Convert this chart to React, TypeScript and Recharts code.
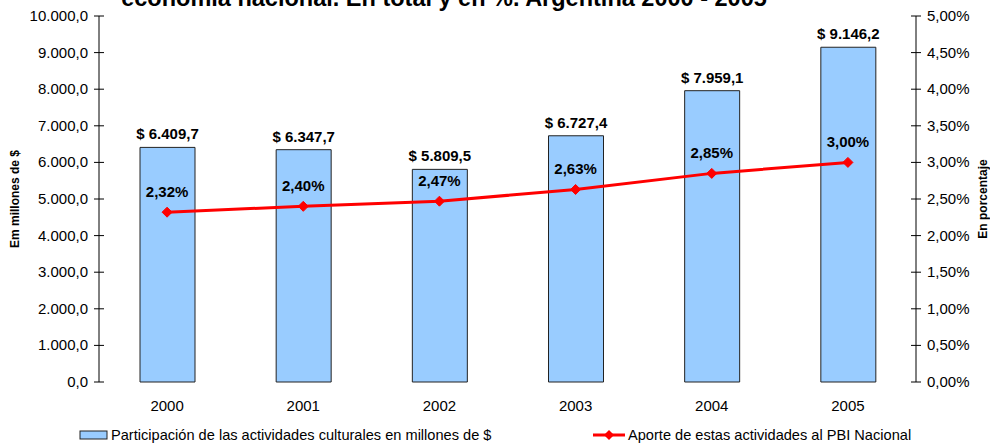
import React from 'react';
import { ComposedChart, Bar, Line, XAxis, YAxis, LabelList } from 'recharts';

const years = ['2000', '2001', '2002', '2003', '2004', '2005'];
const millones = [6409.7, 6347.7, 5809.5, 6727.4, 7959.1, 9146.2];
const porcentaje = [2.32, 2.4, 2.47, 2.63, 2.85, 3.0];
const leftTicks = [0, 1000, 2000, 3000, 4000, 5000, 6000, 7000, 8000, 9000, 10000];
const rightTicks = [0, 0.5, 1, 1.5, 2, 2.5, 3, 3.5, 4, 4.5, 5];
const boundaryTicks = [0, 1, 2, 3, 4, 5, 6];

const titleText = 'economía nacional. En total y en %. Argentina 2000 - 2005';
const barName = 'Participación de las actividades culturales en millones de $';
const lineName = 'Aporte de estas actividades al PBI Nacional';
const leftTitle = 'Em millones de $';
const rightTitle = 'En porcentaje';

const data = years.map((y, i) => ({ year: y, m: millones[i], p: porcentaje[i] }));

const FONT = '"Liberation Sans", Arial, sans-serif';

function fmtNum(v: number, dec: number): string {
  const fixed = v.toFixed(dec);
  const [int, frac] = fixed.split('.');
  const withSep = int.replace(/\B(?=(\d{3})+(?!\d))/g, '.');
  return frac !== undefined ? withSep + ',' + frac : withSep;
}

const LeftTick = (props: any) => {
  const { x, y, payload } = props;
  const axisX = x + 11;
  return (
    <g>
      <line x1={axisX - 5} x2={axisX + 5} y1={y} y2={y} stroke="#000" />
      <text x={x} y={y} dy={5} textAnchor="end" fontSize={15} fontFamily={FONT} fill="#000">
        {fmtNum(payload.value, 1)}
      </text>
    </g>
  );
};

const RightTick = (props: any) => {
  const { x, y, payload } = props;
  const axisX = x - 11;
  return (
    <g>
      <line x1={axisX - 5} x2={axisX + 5} y1={y} y2={y} stroke="#000" />
      <text x={x} y={y} dy={5} textAnchor="start" fontSize={15} fontFamily={FONT} fill="#000">
        {fmtNum(payload.value, 2) + '%'}
      </text>
    </g>
  );
};

const Diamond = (props: any) => {
  const { cx, cy } = props;
  if (cx == null || cy == null) return null;
  const r = 5;
  return (
    <polygon
      points={`${cx},${cy - r} ${cx + r},${cy} ${cx},${cy + r} ${cx - r},${cy}`}
      fill="#FF0000"
      stroke="#FF0000"
    />
  );
};

const BarLabel = (props: any) => {
  const { x, y, width, value } = props;
  return (
    <text
      x={Number(x) + Number(width) / 2}
      y={Number(y) - 8}
      textAnchor="middle"
      fontSize={15}
      fontWeight="bold"
      fontFamily={FONT}
      fill="#000"
    >
      {'$ ' + fmtNum(Number(value), 1)}
    </text>
  );
};

const PctLabel = (props: any) => {
  const { x, y, value } = props;
  return (
    <text
      x={Number(x)}
      y={Number(y) - 15}
      textAnchor="middle"
      fontSize={15}
      fontWeight="bold"
      fontFamily={FONT}
      fill="#000"
    >
      {fmtNum(Number(value), 2) + '%'}
    </text>
  );
};

export default function App() {
  return (
    <div style={{ position: 'absolute', left: 0, top: 0, width: 990, height: 445, background: '#fff', overflow: 'hidden' }}>
      <ComposedChart
        width={990}
        height={445}
        data={data}
        margin={{ top: 16, right: 0, left: 0, bottom: 23 }}
      >
        <XAxis
          xAxisId="b"
          type="number"
          domain={[0, 6]}
          ticks={boundaryTicks}
          height={0}
          tick={false}
          tickSize={6}
          axisLine={{ stroke: '#000' }}
          tickLine={{ stroke: '#000' }}
        />
        <XAxis
          dataKey="year"
          height={40}
          axisLine={false}
          tickLine={false}
          tickSize={0}
          tickMargin={18}
          tick={{ fontSize: 15, fontFamily: FONT, fill: '#000' }}
        />
        <YAxis
          yAxisId="l"
          orientation="left"
          width={99}
          domain={[0, 10000]}
          ticks={leftTicks}
          tickLine={false}
          tickSize={5}
          tickMargin={6}
          axisLine={{ stroke: '#000' }}
          tick={<LeftTick />}
          interval={0}
          label={{
            value: leftTitle,
            angle: -90,
            position: 'center',
            dx: -35,
            dy: 0,
            style: { fontSize: 12, fontWeight: 'bold', fontFamily: FONT, fill: '#000' },
          }}
        />
        <YAxis
          yAxisId="r"
          orientation="right"
          width={74}
          domain={[0, 5]}
          ticks={rightTicks}
          tickLine={false}
          tickSize={5}
          tickMargin={6}
          axisLine={{ stroke: '#000' }}
          tick={<RightTick />}
          interval={0}
          label={{
            value: rightTitle,
            angle: -90,
            position: 'center',
            dx: 30,
            style: { fontSize: 12, fontWeight: 'bold', fontFamily: FONT, fill: '#000' },
          }}
        />
        <Bar
          yAxisId="l"
          dataKey="m"
          name={barName}
          barSize={55}
          fill="#99CCFF"
          stroke="#222"
          strokeWidth={1}
          isAnimationActive={false}
        >
          <LabelList dataKey="m" content={<BarLabel />} />
        </Bar>
        <Line
          yAxisId="r"
          dataKey="p"
          name={lineName}
          stroke="#FF0000"
          strokeWidth={3}
          dot={<Diamond />}
          activeDot={false}
          isAnimationActive={false}
        >
          <LabelList dataKey="p" content={<PctLabel />} />
        </Line>
      </ComposedChart>
      <svg width={990} height={445} style={{ position: 'absolute', left: 0, top: 0, pointerEvents: 'none' }}>
        <text x={444} y={6} textAnchor="middle" fontSize={23.5} fontWeight="bold" fontFamily={FONT} fill="#000">
          {titleText}
        </text>
        <rect x={80} y={431} width={27} height={8} fill="#99CCFF" stroke="#222" strokeWidth={1} />
        <text x={111} y={440} fontSize={14.6} fontFamily={FONT} fill="#000">{barName}</text>
        <line x1={593} x2={625} y1={435} y2={435} stroke="#FF0000" strokeWidth={3} />
        <polygon points="609,430 614,435 609,440 604,435" fill="#FF0000" />
        <text x={628} y={440} fontSize={14.6} fontFamily={FONT} fill="#000">{lineName}</text>
      </svg>
    </div>
  );
}
